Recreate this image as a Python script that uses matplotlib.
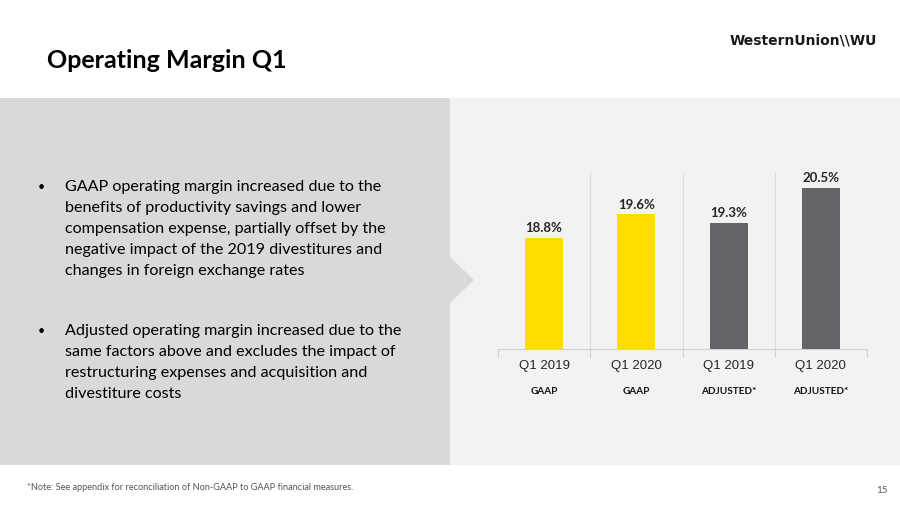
import numpy as np
import matplotlib
matplotlib.use("Agg")
import matplotlib.pyplot as plt
from matplotlib.patches import Rectangle, Polygon

# chart data
categories = ["Q1 2019", "Q1 2020", "Q1 2019", "Q1 2020"]
sub_labels = ["GAAP", "GAAP", "ADJUSTED*", "ADJUSTED*"]
margins = [18.8, 19.6, 19.3, 20.5]
bar_colors = ["#FFDD00", "#FFDD00", "#636467", "#636467"]

title = "Operating Margin Q1"
bullets = [
    ["GAAP operating margin increased due to the",
     "benefits of productivity savings and lower",
     "compensation expense, partially offset by the",
     "negative impact of the 2019 divestitures and",
     "changes in foreign exchange rates"],
    ["Adjusted operating margin increased due to the",
     "same factors above and excludes the impact of",
     "restructuring expenses and acquisition and",
     "divestiture costs"],
]
footnote = "*Note: See appendix for reconciliation of Non-GAAP to GAAP financial measures."
page_no = "15"

W, H = 900, 506
SANS = ["Lato", "DejaVu Sans"]
ARIAL = ["Liberation Sans", "DejaVu Sans"]

fig = plt.figure(figsize=(W / 100, H / 100), dpi=100)
fig.patch.set_facecolor("white")


def fx(x):
    return x / W


def fy(y):
    return 1 - y / H


# background panels (in pixel coords through the figure transform)
bg = fig.add_axes([0, 0, 1, 1], zorder=0)
bg.set_xlim(0, W)
bg.set_ylim(H, 0)
bg.axis("off")
bg.add_patch(Rectangle((450, 99), 450, 367, color="#f2f2f2", lw=0))
bg.add_patch(Rectangle((0, 99), 450, 367, color="#d9d9d9", lw=0))
bg.add_patch(Polygon([[449, 257], [474, 281], [449, 305]], closed=True,
                     color="#d9d9d9", lw=0))

# title and logo
fig.text(fx(47), fy(61), title, fontsize=18, fontweight="bold",
         family=SANS, va="center", ha="left", color="black")
fig.text(fx(877), fy(40), "WesternUnion\\\\WU", fontsize=10, fontweight="bold",
         family=["DejaVu Sans"], va="center", ha="right", color="#1a1a1a")

# bullet text
starts = [187, 331]
for lines, y0 in zip(bullets, starts):
    fig.text(fx(38), fy(y0), "\u2022", fontsize=9, family=SANS,
             va="center", ha="left", color="black")
    for i, line in enumerate(lines):
        fig.text(fx(65), fy(y0 + i * 21), line, fontsize=11.6, family=SANS,
                 va="center", ha="left", color="black")

# footnote and page number
fig.text(fx(27), fy(488), footnote, fontsize=6.6, family=SANS,
         va="center", ha="left", color="#555555")
fig.text(fx(888), fy(491), page_no, fontsize=7, family=SANS,
         va="center", ha="right", color="#555555")

# bar chart
ax = fig.add_axes([fx(498), fy(350), fx(867 - 498), (350 - 174) / H], zorder=1)
ax.set_facecolor("none")
x = np.arange(len(categories))
ax.bar(x, margins, width=0.41, color=bar_colors, zorder=3)
ax.set_xlim(-0.5, len(categories) - 0.5)
ax.set_ylim(15, 21)
for s in ["top", "right", "left"]:
    ax.spines[s].set_visible(False)
ax.spines["bottom"].set_color("#d0d0d0")
ax.set_yticks([])
bounds = np.arange(-0.5, len(categories), 1.0)
ax.set_xticks(bounds)
ax.set_xticklabels([])
ax.tick_params(axis="x", length=6, color="#d0d0d0", width=0.8)
for b in bounds[1:-1]:
    ax.axvline(b, color="#dcdcdc", lw=0.8, zorder=1)
for xi, v in zip(x, margins):
    ax.text(xi, v + 0.15, f"{v:.1f}%", ha="center", va="bottom",
            fontsize=9.5, fontweight="bold", family=SANS, color="#262626")
for xi, c, s in zip(x, categories, sub_labels):
    ax.annotate(c, (xi, 0), xycoords=("data", "axes fraction"),
                xytext=(0, -16), textcoords="offset pixels",
                ha="center", va="center", fontsize=9.5, family=ARIAL,
                color="#262626")
    ax.annotate(s, (xi, 0), xycoords=("data", "axes fraction"),
                xytext=(0, -41), textcoords="offset pixels",
                ha="center", va="center", fontsize=7.2, fontweight="bold",
                family=SANS, color="#111111")

fig.savefig("out.png", dpi=100, facecolor=fig.get_facecolor())
